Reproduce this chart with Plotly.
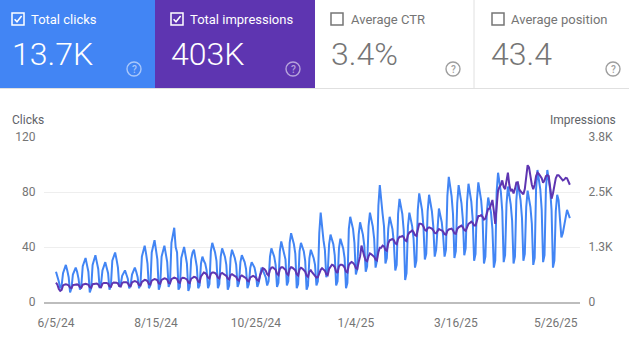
import plotly.graph_objects as go
import pandas as pd

# ---------------- data ----------------
start_date = "2024-06-05"

clicks = [
    22, 19, 15, 10, 12, 21, 24,
    27, 23, 18, 7, 10, 20, 23,
    25, 22, 17, 9, 12, 26, 29,
    32, 27, 22, 7, 10, 27, 31,
    34, 29, 24, 10, 13, 23, 27,
    29, 25, 21, 9, 12, 30, 33,
    36, 31, 25, 11, 13, 19, 21,
    23, 20, 17, 10, 12, 20, 23,
    25, 22, 18, 10, 13, 33, 37,
    41, 35, 28, 10, 12, 36, 42,
    45, 38, 31, 9, 12, 33, 38,
    41, 35, 29, 11, 14, 43, 50,
    54, 40, 36, 9, 11, 32, 37,
    40, 34, 28, 8, 11, 31, 36,
    38, 33, 26, 10, 12, 28, 33,
    30, 28, 23, 10, 13, 37, 43,
    40, 36, 30, 10, 13, 33, 39,
    36, 33, 27, 9, 12, 32, 38,
    35, 32, 27, 11, 14, 29, 34,
    31, 29, 24, 10, 13, 25, 29,
    27, 25, 20, 11, 14, 21, 25,
    23, 21, 18, 12, 15, 33, 39,
    36, 33, 27, 11, 14, 37, 44,
    40, 37, 31, 12, 15, 43, 50,
    46, 42, 35, 10, 13, 37, 43,
    40, 37, 30, 9, 12, 32, 38,
    35, 32, 27, 12, 15, 50, 65,
    52, 45, 38, 18, 21, 42, 49,
    45, 42, 34, 12, 15, 39, 46,
    42, 39, 32, 10, 14, 53, 62,
    57, 53, 43, 20, 24, 49, 58,
    53, 49, 41, 22, 26, 55, 65,
    60, 55, 46, 25, 30, 70, 85,
    72, 64, 55, 28, 32, 53, 62,
    57, 53, 43, 23, 27, 64, 75,
    69, 64, 52, 16, 21, 55, 65,
    60, 55, 46, 25, 30, 67, 79,
    73, 67, 55, 31, 35, 66, 78,
    72, 66, 55, 33, 38, 58, 68,
    63, 58, 48, 33, 38, 77, 91,
    84, 77, 64, 32, 37, 72, 85,
    78, 72, 60, 34, 39, 73, 86,
    79, 73, 60, 30, 35, 74, 87,
    80, 74, 61, 28, 33, 65, 76,
    70, 65, 53, 25, 30, 80, 94,
    86, 80, 66, 29, 34, 71, 84,
    77, 71, 59, 28, 33, 74, 87,
    80, 74, 61, 30, 35, 69, 81,
    75, 69, 57, 27, 32, 82, 96,
    88, 82, 67, 29, 34, 82, 96,
    88, 82, 67, 25, 30, 66, 78,
    74, 60, 47, 50, 55, 62, 67,
    64, 61,
]

impressions = [
    445, 400, 300, 255, 280, 380, 400,
    410, 400, 380, 330, 320, 390, 400,
    410, 405, 390, 340, 330, 400, 410,
    420, 410, 395, 340, 330, 410, 420,
    430, 425, 405, 350, 340, 420, 440,
    445, 440, 420, 360, 350, 430, 450,
    450, 445, 425, 365, 355, 440, 455,
    460, 455, 435, 375, 365, 450, 470,
    480, 470, 450, 390, 380, 465, 490,
    510, 500, 480, 410, 400, 490, 515,
    530, 520, 500, 430, 420, 510, 530,
    545, 535, 515, 440, 430, 525, 545,
    560, 550, 530, 455, 440, 540, 560,
    555, 545, 520, 450, 435, 535, 560,
    580, 570, 545, 470, 455, 590, 650,
    680, 665, 630, 560, 540, 650, 680,
    680, 665, 630, 560, 540, 650, 670,
    650, 635, 600, 540, 520, 620, 640,
    620, 605, 575, 510, 490, 590, 610,
    590, 575, 550, 490, 475, 565, 585,
    600, 585, 560, 500, 485, 620, 720,
    780, 760, 720, 640, 610, 740, 790,
    800, 780, 740, 650, 620, 760, 800,
    800, 780, 740, 650, 620, 760, 800,
    790, 770, 730, 640, 610, 750, 790,
    770, 745, 700, 610, 580, 700, 730,
    680, 640, 600, 560, 570, 680, 740,
    780, 760, 720, 640, 620, 760, 820,
    860, 845, 800, 700, 670, 820, 860,
    860, 840, 790, 700, 680, 850, 900,
    920, 900, 860, 780, 760, 920, 1050,
    1300, 1150, 1050, 960, 940, 1050, 1120,
    1100, 1080, 1040, 980, 960, 1150, 1250,
    1250, 1300, 1280, 1200, 1180, 1350, 1420,
    1430, 1450, 1420, 1350, 1330, 1450, 1500,
    1500, 1520, 1490, 1420, 1400, 1540, 1600,
    1620, 1650, 1610, 1540, 1520, 1700, 1800,
    1800, 1790, 1740, 1660, 1640, 1700, 1720,
    1700, 1690, 1650, 1590, 1580, 1650, 1680,
    1660, 1650, 1620, 1560, 1550, 1640, 1670,
    1680, 1690, 1650, 1580, 1570, 1680, 1720,
    1740, 1760, 1720, 1660, 1640, 1750, 1800,
    1820, 1850, 1820, 1760, 1760, 1900, 1980,
    1980, 2000, 1960, 1900, 1920, 2050, 2150,
    2150, 2250, 2350, 2100, 1800, 2200, 2570,
    2650, 2700, 2800, 2650, 2600, 2800, 2980,
    2700, 2550, 2600, 2500, 2600, 2750, 2760,
    2600, 2550, 2520, 2480, 2600, 2900, 3150,
    3100, 2850, 2700, 2600, 2700, 2900, 2980,
    2950, 2900, 2850, 2750, 2800, 2900, 2920,
    2900, 2600, 2380, 2500, 2700, 2850, 2920,
    2920, 2880, 2850, 2800, 2820, 2860, 2850,
    2760, 2700,
]

x_tick_dates = ["2024-06-05", "2024-08-15", "2024-10-25", "2025-01-04", "2025-03-16", "2025-05-26"]
x_tick_text = ["6/5/24", "8/15/24", "10/25/24", "1/4/25", "3/16/25", "5/26/25"]
clicks_ticks = [0, 40, 80, 120]
impressions_ticks = [0, 3800 / 3, 7600 / 3, 3800]
impressions_tick_text = ["0", "1.3K", "2.5K", "3.8K"]

card_labels = ["Total clicks", "Total impressions", "Average CTR", "Average position"]
card_values = ["13.7K", "403K", "3.4%", "43.4"]
card_checked = [True, True, False, False]

# ---------------- styling ----------------
BLUE = "#4285F4"
PURPLE = "#5E35B1"
GRAY_TXT = "#757575"
FONT = "Roboto"

W, H = 629, 351
L, R, T, B = 44, 580, 137, 302


def px(x):
    return (x - L) / (R - L)


def py(y):
    return (B - y) / (B - T)


dates = pd.date_range(start_date, periods=len(clicks), freq="D")

fig = go.Figure()
fig.add_trace(go.Scatter(x=dates, y=clicks, mode="lines", name="Clicks",
                         line=dict(color=BLUE, width=2), yaxis="y", hoverinfo="skip"))
fig.add_trace(go.Scatter(x=dates, y=impressions, mode="lines", name="Impressions",
                         line=dict(color=PURPLE, width=2), yaxis="y2", hoverinfo="skip"))

shapes = []
annotations = []

# ---- cards ----
card_edges = [0, 155, 315, 474, 629]
card_fill = [BLUE, PURPLE, "#ffffff", "#ffffff"]
box_x = [12, 171, 331, 492]
label_x = [29, 188, 349, 509]
num_x = [10, 169, 329, 489]
help_x = [134, 293, 453, 613]

for i in range(4):
    x0, x1 = card_edges[i], card_edges[i + 1]
    shapes.append(dict(type="rect", xref="paper", yref="paper",
                       x0=px(x0), x1=px(x1), y0=py(88), y1=py(0),
                       fillcolor=card_fill[i], line=dict(width=0), layer="below"))
    colored = i < 2
    fg = "#ffffff" if colored else GRAY_TXT
    bx = box_x[i]
    shapes.append(dict(type="rect", xref="paper", yref="paper",
                       x0=px(bx), x1=px(bx + 12), y0=py(25), y1=py(13),
                       fillcolor="rgba(0,0,0,0)", line=dict(color=fg, width=1.5)))
    if card_checked[i]:
        path = "M {} {} L {} {} L {} {}".format(
            px(bx + 2.6), py(19.2), px(bx + 5.0), py(21.8), px(bx + 9.6), py(16.0))
        shapes.append(dict(type="path", xref="paper", yref="paper", path=path,
                           line=dict(color=fg, width=1.5)))
    annotations.append(dict(xref="paper", yref="paper", x=px(label_x[i]), y=py(19),
                            xanchor="left", yanchor="middle", showarrow=False,
                            text=card_labels[i],
                            font=dict(family=FONT, size=13, color=fg)))
    annotations.append(dict(xref="paper", yref="paper", x=px(num_x[i]), y=py(54),
                            xanchor="left", yanchor="middle", showarrow=False,
                            text=card_values[i],
                            font=dict(family=FONT, size=32, color=fg, weight=300)))
    hc = "rgba(255,255,255,0.55)" if colored else "#9e9e9e"
    cx, cy, r = help_x[i], 69, 7
    shapes.append(dict(type="circle", xref="paper", yref="paper",
                       x0=px(cx - r), x1=px(cx + r), y0=py(cy + r), y1=py(cy - r),
                       fillcolor="rgba(0,0,0,0)", line=dict(color=hc, width=1.4)))
    annotations.append(dict(xref="paper", yref="paper", x=px(cx), y=py(cy),
                            xanchor="center", yanchor="middle", showarrow=False,
                            text="?", font=dict(family=FONT, size=10, color=hc, weight=500)))

shapes.append(dict(type="line", xref="paper", yref="paper",
                   x0=px(474), x1=px(474), y0=py(88), y1=py(0),
                   line=dict(color="#e0e0e0", width=1)))
shapes.append(dict(type="line", xref="paper", yref="paper",
                   x0=px(0), x1=px(629), y0=py(88.5), y1=py(88.5),
                   line=dict(color="#e0e0e0", width=1)))

annotations.append(dict(xref="paper", yref="paper", x=px(10), y=py(120),
                        xanchor="left", yanchor="middle", showarrow=False, text="Clicks",
                        font=dict(family=FONT, size=12, color="#5f6368")))
annotations.append(dict(xref="paper", yref="paper", x=px(618), y=py(120),
                        xanchor="right", yanchor="middle", showarrow=False, text="Impressions",
                        font=dict(family=FONT, size=12, color="#5f6368")))

fig.update_layout(
    width=W, height=H, autosize=False,
    margin=dict(l=L, r=W - R, t=T, b=H - B, pad=0),
    paper_bgcolor="#ffffff", plot_bgcolor="#ffffff",
    showlegend=False,
    font=dict(family=FONT, size=12, color=GRAY_TXT),
    xaxis=dict(
        range=["2024-05-27 11:30", "2025-06-12 05:00"],
        tickvals=x_tick_dates, ticktext=x_tick_text,
        showgrid=False, zeroline=False,
        showline=True, linecolor="#bdbdbd", linewidth=2,
        ticks="outside", ticklen=9, tickcolor="rgba(0,0,0,0)",
        tickfont=dict(family=FONT, size=12, color=GRAY_TXT),
    ),
    yaxis=dict(
        range=[0, 120], tickvals=clicks_ticks,
        showgrid=True, gridcolor="#eeeeee", gridwidth=1,
        zeroline=False, showline=False,
        ticks="outside", ticklen=5, tickcolor="rgba(0,0,0,0)",
        tickfont=dict(family=FONT, size=12, color=GRAY_TXT),
    ),
    yaxis2=dict(
        range=[0, 3800], tickvals=impressions_ticks, ticktext=impressions_tick_text,
        overlaying="y", side="right",
        showgrid=False, zeroline=False, showline=False,
        ticks="outside", ticklen=5, tickcolor="rgba(0,0,0,0)",
        tickfont=dict(family=FONT, size=12, color=GRAY_TXT),
    ),
    shapes=shapes,
    annotations=annotations,
)

fig.write_html("out.html")
